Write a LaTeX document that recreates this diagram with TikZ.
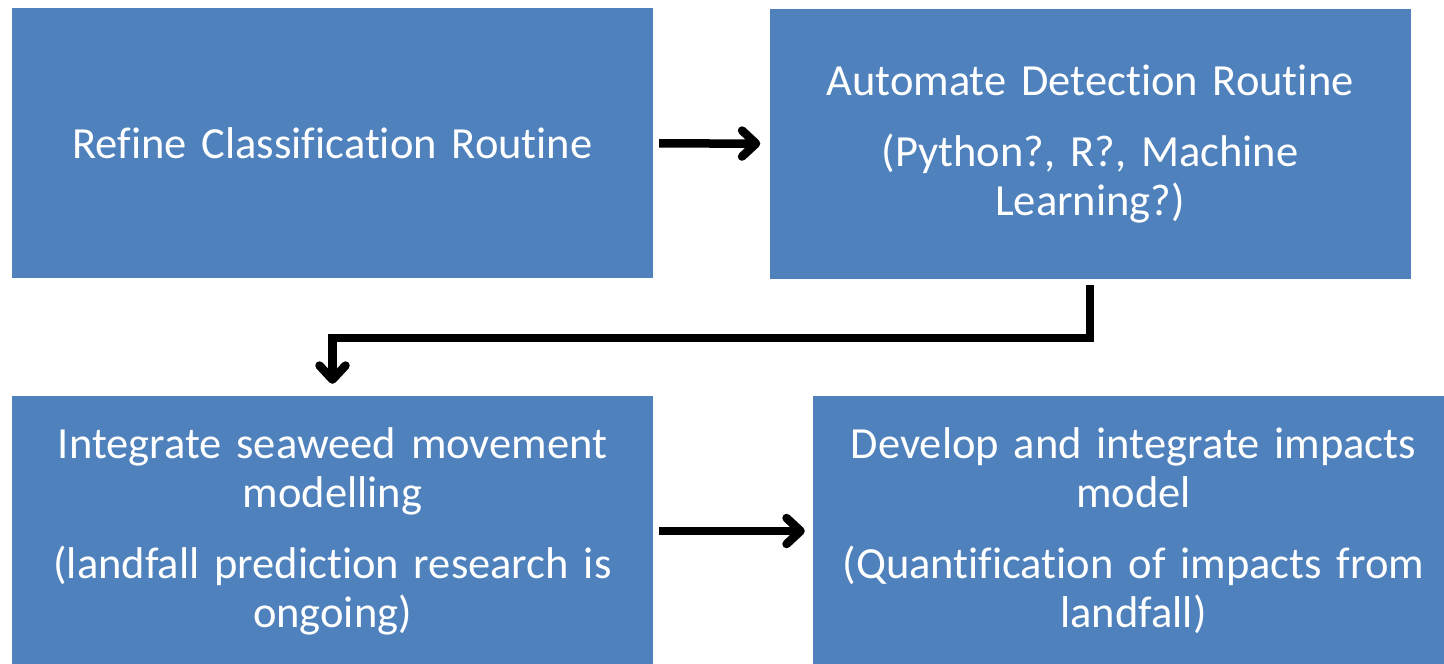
\documentclass[tikz,border=0pt]{standalone}
\usepackage{fontspec}
\setmainfont{Carlito}[Ligatures={NoCommon,NoContextual}]
\usetikzlibrary{arrows.meta}
\definecolor{boxblue}{RGB}{79,129,189}
\begin{document}
\begin{tikzpicture}[x=1pt,y=-1pt,
        stepbox/.style={fill=boxblue,text=white,minimum width=641pt,minimum height=270pt,
            inner sep=0pt,align=center,text width=620pt,font=\fontsize{44.5}{49}\selectfont},
        flow/.style={line width=8.5pt,-{Straight Barb[length=14pt,width=26pt,line cap=round,line join=round]}}]
            \useasboundingbox (0,0) rectangle (1444,664);
            \node[stepbox] (refine) at (332.5,143) {Refine Classification Routine};
            \node[stepbox] (automate) at (1090,144) {Automate Detection Routine\\[22pt] (Python?, R?, Machine\\ Learning?)};
            \node[stepbox] (integrate) at (332.5,531) {Integrate seaweed movement\\ modelling\\[22pt] (landfall prediction research is\\ ongoing)};
            \node[stepbox] (develop) at (1133.5,531) {Develop and integrate impacts\\ model\\[22pt] (Quantification of impacts from\\ landfall)};
            \draw[flow,shorten <=6pt,shorten >=9pt] (refine) -- (automate);
            \draw[flow,shorten <=6pt,shorten >=12pt] (automate.south) -- ++(0,59) -| (integrate.north);
            \draw[flow,shorten <=6pt,shorten >=8pt] (integrate) -- (develop);
        \end{tikzpicture}
\end{document}
